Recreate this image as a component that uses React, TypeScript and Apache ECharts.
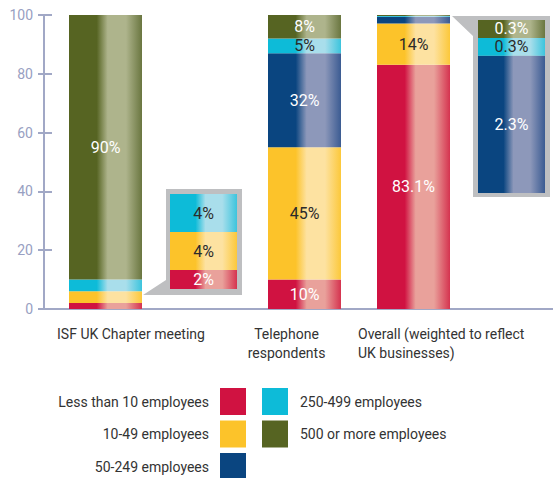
import React, { useEffect, useRef } from 'react';
import * as echarts from 'echarts';

// ---- data ----
const categories = ['ISF UK Chapter meeting', 'Telephone\nrespondents', 'Overall (weighted to reflect\nUK businesses)'];
const sizeBands = ['Less than 10 employees', '10-49 employees', '50-249 employees', '250-499 employees', '500 or more employees'];
const lessThan10 = [2, 10, 83.1];
const from10to49 = [4, 45, 14];
const from50to249 = [0, 32, 2.3];
const from250to499 = [4, 5, 0.3];
const over500 = [90, 8, 0.3];
const yTicks = { min: 0, max: 100, interval: 20 };
const values = [lessThan10, from10to49, from50to249, from250to499, over500];

// zoomed call-outs: which category and which bands they magnify
const callout1 = { category: 0, bands: [0, 1, 2, 3] };
const callout2 = { category: 2, bands: [2, 3, 4] };

// ---- styles / layout ----
const DARK = ['#d01241', '#fcc32a', '#0a4580', '#0dbbd8', '#566422'];
const LIGHT = ['#e9a19b', '#fde2a1', '#8d98ba', '#a9deeb', '#aeb48c'];
const EDGE = ['#d5334f', '#fcc83a', '#3b5b92', '#3cc4dd', '#6a7640'];
const LABEL_COLOR = ['#ffffff', '#2b2b2b', '#ffffff', '#2b2b2b', '#ffffff'];
const AXIS_COLOR = '#a1a8c6';
const BAR_LEFT = [69, 268, 377];
const BAR_W = 73;
const REG = 'Roboto, "Liberation Sans", sans-serif';
const FRAME = '#bebfc1';
const TEXT = '#333333';

const grad = (i: number) => ({
  type: 'linear', x: 0, y: 0, x2: 1, y2: 0,
  colorStops: [
    { offset: 0, color: DARK[i] },
    { offset: 0.38, color: DARK[i] },
    { offset: 0.53, color: LIGHT[i] },
    { offset: 0.78, color: LIGHT[i] },
    { offset: 1, color: EDGE[i] },
  ],
});

const labelOf = (i: number, minShow: number) => ({
  show: true,
  position: 'inside',
  color: LABEL_COLOR[i],
  fontFamily: REG,
  fontSize: 16,
  formatter: (p: any) => (p.value >= minShow && p.value > 0 ? `${p.value}%` : ''),
});

export default function App() {
  const ref = useRef<HTMLDivElement>(null);
  useEffect(() => {
    if (!ref.current) return;
    const chart = echarts.init(ref.current, null, { renderer: 'svg' });

    const grids: any[] = [{ left: 44, top: 15, width: 509, height: 294 }];
    const xAxes: any[] = [
      { type: 'value', gridIndex: 0, min: 0, max: 1, axisLabel: { show: false }, axisTick: { show: false }, splitLine: { show: false },
        axisLine: { show: true, lineStyle: { color: AXIS_COLOR, width: 2 } } },
    ];
    const yAxes: any[] = [
      { type: 'value', gridIndex: 0, position: 'left', min: yTicks.min, max: yTicks.max, interval: yTicks.interval, splitLine: { show: false },
        axisLine: { show: true, lineStyle: { color: AXIS_COLOR, width: 2 } },
        axisTick: { show: true, length: 6, lineStyle: { color: AXIS_COLOR, width: 2 } },
        axisLabel: { color: '#98a0c2', fontSize: 14, fontFamily: REG, margin: 11 } },
      { type: 'value', gridIndex: 0, position: 'left', offset: 0, min: yTicks.min, max: yTicks.max, interval: yTicks.interval, splitLine: { show: false },
        axisLine: { show: false }, axisLabel: { show: false },
        axisTick: { show: true, inside: true, length: 8, lineStyle: { color: AXIS_COLOR, width: 2 } } },
    ];
    const series: any[] = [];

    // one grid per survey bar, sharing the 0..100 scale
    categories.forEach((cat, k) => {
      const gi = grids.length;
      grids.push({ left: BAR_LEFT[k], top: 15, width: BAR_W, height: 294 });
      xAxes.push({ type: 'category', gridIndex: gi, data: [cat], show: false });
      yAxes.push({ type: 'value', gridIndex: gi, min: yTicks.min, max: yTicks.max, show: false, splitLine: { show: false } });
      values.forEach((vals, i) => {
        series.push({
          type: 'bar', name: sizeBands[i], xAxisIndex: xAxes.length - 1, yAxisIndex: yAxes.length - 1,
          stack: `bar${k}`, barWidth: BAR_W, data: [vals[k]],
          itemStyle: { color: grad(i) }, label: labelOf(i, 5), z: 3,
        });
      });
    });

    // magnified call-outs
    const addCallout = (c: { category: number; bands: number[] }, box: any, key: string) => {
      const gi = grids.length;
      grids.push(box);
      xAxes.push({ type: 'category', gridIndex: gi, data: [categories[c.category]], show: false });
      const max = c.bands.reduce((s, b) => s + values[b][c.category], 0);
      yAxes.push({ type: 'value', gridIndex: gi, min: 0, max, show: false, splitLine: { show: false } });
      c.bands.forEach((b) => {
        series.push({
          type: 'bar', name: sizeBands[b], xAxisIndex: xAxes.length - 1, yAxisIndex: yAxes.length - 1,
          stack: key, barWidth: 67, data: [values[b][c.category]],
          itemStyle: { color: grad(b) }, label: labelOf(b, 0), z: 3,
        });
      });
    };
    addCallout(callout1, { left: 170, top: 194, width: 67, height: 95 }, 'c1');
    addCallout(callout2, { left: 478, top: 20, width: 67, height: 173 }, 'c2');

    const legendText = { fontFamily: REG, fontSize: 14, color: TEXT };
    const ROW_TOP = [388, 420.5, 453];
    const legends = sizeBands.map((n, i) => {
      const leftCol = i < 3;
      const row = leftCol ? i : i - 3;
      return {
        orient: 'vertical', align: leftCol ? 'right' : 'left',
        ...(leftCol ? { right: 307 } : { left: 262 }),
        top: ROW_TOP[row], padding: 0, itemWidth: 26, itemHeight: 27,
        icon: 'rect', selectedMode: false,
        data: [{ name: n, itemStyle: { color: DARK[i] } }],
        textStyle: { ...legendText, padding: leftCol ? [0, 6, 0, 0] : [0, 0, 0, 7] },
      };
    });

    const catText = (text: string, x: number, align: string) => ({
      type: 'text', x, y: 324,
      style: { text, textAlign: align, textVerticalAlign: 'top', font: `14px ${REG}`, fill: TEXT, lineHeight: 19 },
    });

    chart.setOption({
      animation: false,
      textStyle: { fontFamily: REG },
      grid: grids,
      xAxis: xAxes,
      yAxis: yAxes,
      legend: legends,
      graphic: [
        { type: 'polygon', z: 1, shape: { points: [[143, 295], [166, 280], [166, 189], [242, 189], [242, 295]] }, style: { fill: FRAME } },
        { type: 'polygon', z: 1, shape: { points: [[452, 16], [550, 16], [550, 197], [473, 197], [473, 36]] }, style: { fill: FRAME } },
        catText(categories[0], 131, 'center'),
        catText(categories[1], 286.5, 'center'),
        catText(categories[2], 358, 'left'),
      ],
      series,
    });
    return () => chart.dispose();
  }, []);
  return <div ref={ref} style={{ position: 'absolute', left: 0, top: 0, width: 553, height: 478 }} />;
}
